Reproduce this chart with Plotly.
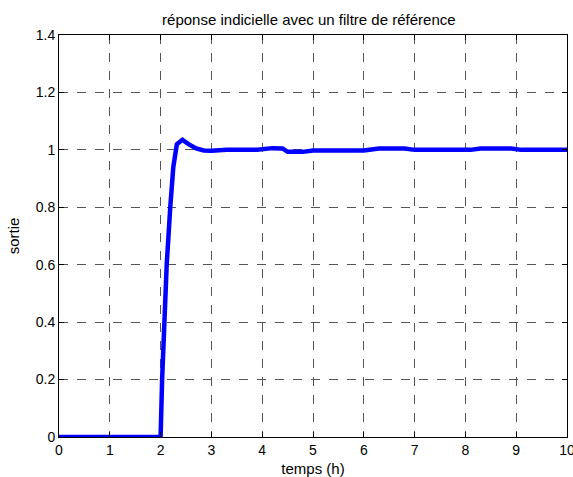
import plotly.graph_objects as go

# Step response with a reference filter (sampled output)
temps = [0, 2.0, 2.03, 2.07, 2.12, 2.19, 2.25, 2.32, 2.43, 2.55, 2.7, 2.85, 3.0, 3.3,
         3.9, 4.2, 4.4, 4.5, 4.8, 5.0, 6.0, 6.3, 6.8, 7.0, 8.1, 8.3, 8.9, 9.1, 10]
sortie = [0, 0, 0.2, 0.43, 0.6, 0.8, 0.94, 1.02, 1.035, 1.02, 1.005, 0.998, 0.997, 1.0,
          1.0, 1.006, 1.005, 0.993, 0.993, 0.998, 0.998, 1.005, 1.005, 1.0, 1.0, 1.005,
          1.005, 1.0, 1.0]

x_ticks = list(range(0, 11))
y_ticks = [0, 0.2, 0.4, 0.6, 0.8, 1, 1.2, 1.4]
y_labels = ["0", "0.2", "0.4", "0.6", "0.8", "1", "1.2", "1.4"]

FONT = dict(family="Liberation Sans, Arial", size=14, color="black")
TITLE_FONT = dict(family="Liberation Sans, Arial", size=15, color="black")

fig = go.Figure()
fig.add_trace(go.Scatter(x=temps, y=sortie, mode="lines",
                         line=dict(color="#0000FF", width=4.5), showlegend=False))

axis_common = dict(
    showline=True, linecolor="black", linewidth=1, mirror="ticks",
    ticks="inside", ticklen=5, tickcolor="black",
    showgrid=True, gridcolor="#555555", griddash="dash", gridwidth=1,
    zeroline=False, tickfont=FONT, ticklabeloverflow="allow", automargin=False,
)

fig.update_xaxes(range=[0, 10], tickvals=x_ticks, ticktext=[str(v) for v in x_ticks],
                 title=dict(text="temps (h)", font=TITLE_FONT, standoff=6),
                 **axis_common)
fig.update_yaxes(range=[0, 1.4], tickvals=y_ticks, ticktext=y_labels,
                 title=dict(text="sortie", font=TITLE_FONT, standoff=12),
                 **axis_common)

fig.update_layout(
    width=573, height=477,
    margin=dict(l=59, r=6, t=35, b=40),
    paper_bgcolor="white", plot_bgcolor="white",
    title=dict(text="réponse indicielle avec un filtre de référence",
               font=TITLE_FONT, x=0.539, xanchor="center", y=0.958, yanchor="middle"),
)

fig.write_html("out.html")
